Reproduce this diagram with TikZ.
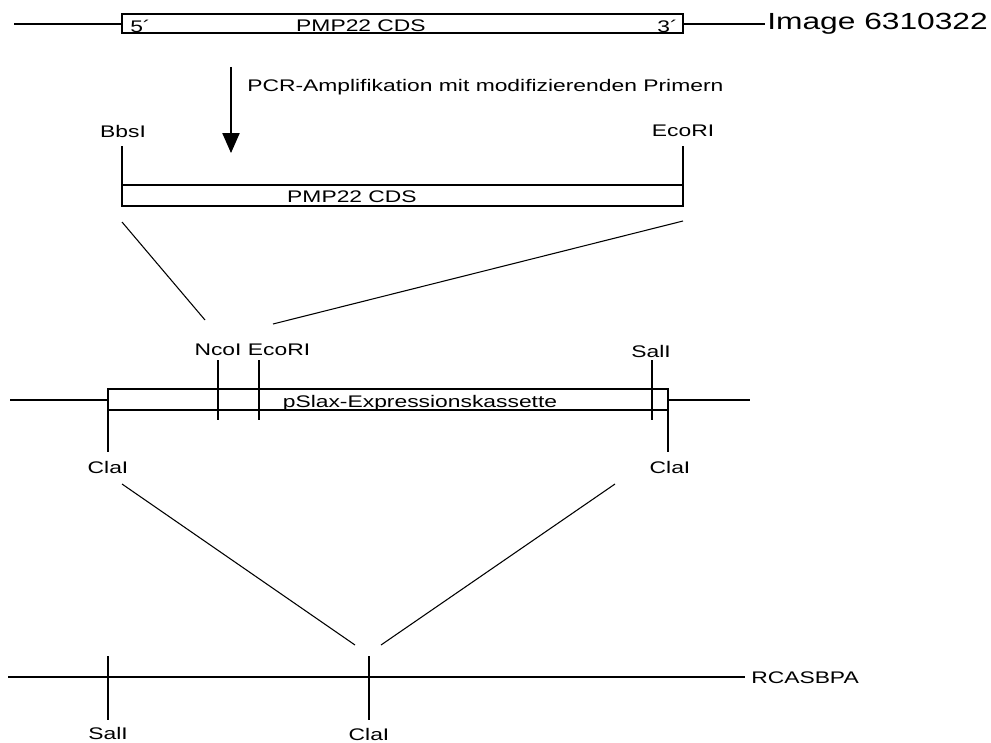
\documentclass[tikz,border=0pt]{standalone}
\usepackage{fontspec}
\usepackage{graphicx}
\setmainfont{Liberation Sans}
\usetikzlibrary{arrows.meta}
\newcommand\stretchtxt[1]{\scalebox{1.36}[1]{#1}}
\begin{document}
\begin{tikzpicture}[x=0.75pt,y=-0.75pt,
  lbl/.style={inner sep=0pt,font=\fontsize{12.6}{14}\selectfont},
  seg/.style={draw=black,line width=0.8pt},
  boxx/.style={draw=black,line width=0.8pt,fill=white}]
\useasboundingbox (0,0) rectangle (991,742);
% top row
\coordinate (t0) at (14,24);
\coordinate (t1) at (122,24);
\coordinate (t2) at (683,24);
\coordinate (t3) at (765,24);
\draw[seg] (t0) -- (t1);
\draw[seg] (t2) -- (t3);
\draw[boxx] (122,14) rectangle (683,33);
\node[lbl,anchor=west] (five) at (130,26) {\stretchtxt{5´}};
\node[lbl] (cds1) at (361,26) {\stretchtxt{PMP22 CDS}};
\node[lbl,anchor=east] (three) at (678,26) {\stretchtxt{3´}};
\node[inner sep=0pt,anchor=west,font=\fontsize{17.5}{20}\selectfont] (img) at (767,24) {\stretchtxt{Image 6310322}};
% arrow
\coordinate (a0) at (231,67);
\coordinate (a1) at (231,153);
\draw[seg,-{Triangle[length=15pt,width=13pt]}] (a0) -- (a1);
\node[lbl,anchor=west] (pcr) at (247,87) {\stretchtxt{PCR-Amplifikation mit modifizierenden Primern}};
% second row
\node[lbl] (bbs) at (123,131) {\stretchtxt{BbsI}};
\node[lbl] (eco1) at (683,131) {\stretchtxt{EcoRI}};
\coordinate (b0) at (122,146);
\coordinate (b1) at (683,146);
\draw[seg] (b0) -- (122,185);
\draw[seg] (b1) -- (683,185);
\draw[boxx] (122,185) rectangle (683,206);
\node[lbl] (cds2) at (352,197) {\stretchtxt{PMP22 CDS}};
% diagonals
\coordinate (d1) at (122,222);
\coordinate (d2) at (205,320);
\coordinate (d3) at (683,221);
\coordinate (d4) at (273,324);
\draw[seg] (d1) -- (d2);
\draw[seg] (d3) -- (d4);
% pSlax row
\node[lbl] (nco) at (218,350) {\stretchtxt{NcoI}};
\node[lbl] (eco2) at (279,350) {\stretchtxt{EcoRI}};
\node[lbl] (sal1) at (651,351) {\stretchtxt{SalI}};
\draw[seg] (10,400) -- (108,400);
\draw[seg] (668,400) -- (750,400);
\draw[boxx] (108,389) rectangle (668,410);
\node[lbl] (pslax) at (420,403) {\stretchtxt{pSlax-Expressionskassette}};
\coordinate (n0) at (218,360); \coordinate (n1) at (218,420);
\coordinate (e0) at (259,360); \coordinate (e1) at (259,420);
\coordinate (s0) at (652,360); \coordinate (s1) at (652,420);
\draw[seg] (n0) -- (n1);
\draw[seg] (e0) -- (e1);
\draw[seg] (s0) -- (s1);
\coordinate (c0) at (108,389); \coordinate (c1) at (108,452);
\coordinate (c2) at (668,389); \coordinate (c3) at (668,452);
\draw[seg] (c0) -- (c1);
\draw[seg] (c2) -- (c3);
\node[lbl] (cla1) at (108,467) {\stretchtxt{ClaI}};
\node[lbl] (cla2) at (670,467) {\stretchtxt{ClaI}};
% diagonals 2
\coordinate (f1) at (122,484);
\coordinate (f2) at (355,645);
\coordinate (f3) at (615,484);
\coordinate (f4) at (381,645);
\draw[seg] (f1) -- (f2);
\draw[seg] (f3) -- (f4);
% bottom
\coordinate (g0) at (8,677);
\coordinate (g1) at (745,677);
\draw[seg] (g0) -- (g1);
\node[lbl,anchor=west] (rcas) at (751,678) {\stretchtxt{RCASBPA}};
\coordinate (h0) at (108,656); \coordinate (h1) at (108,720);
\coordinate (k0) at (369,656); \coordinate (k1) at (369,720);
\draw[seg] (h0) -- (h1);
\draw[seg] (k0) -- (k1);
\node[lbl] (sal2) at (108,733) {\stretchtxt{SalI}};
\node[lbl] (cla3) at (369,734) {\stretchtxt{ClaI}};
\end{tikzpicture}
\end{document}
